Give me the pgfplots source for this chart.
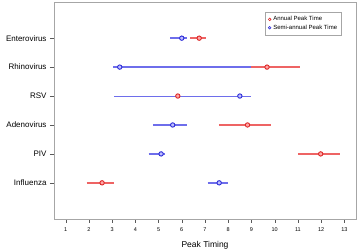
\documentclass[border=0pt]{standalone}
\usepackage{pgfplots}
\pgfplotsset{compat=1.18}
\usepackage{fontspec}
\setmainfont{Liberation Sans}
\definecolor{lred}{RGB}{238,100,100}
\definecolor{dred}{RGB}{220,40,40}
\definecolor{lblue}{RGB}{110,110,235}
\definecolor{dblue}{RGB}{45,45,215}
\begin{document}
\begin{tikzpicture}
\useasboundingbox (-54pt,-32pt) rectangle (304pt,219pt);
\begin{axis}[
  at={(0,0)}, anchor=south west,
  scale only axis, width=302pt, height=217pt,
  xmin=0.5, xmax=13.5, ymin=-0.25, ymax=7.25,
  xtick={1,...,13},
  ytick={1,2,3,4,5,6},
  yticklabels={Influenza,PIV,Adenovirus,RSV,Rhinovirus,Enterovirus},
  tick align=outside, tick pos=left,
  major tick length=4pt,
  xticklabel style={font=\fontsize{5.5}{6}\selectfont, yshift=-1pt},
  yticklabel style={font=\fontsize{8}{9}\selectfont},
  /pgf/number format/assume math mode=true,
  xlabel={Peak Timing},
  xlabel style={font=\fontsize{8.5}{9}\selectfont, yshift=-3pt},
  axis line style={gray!70},
  tick style={gray!70!black},
  legend style={at={(0.953,0.955)}, anchor=north east, draw=gray!70,
    font=\fontsize{6}{7}\selectfont, inner xsep=2.5pt, inner ysep=2.5pt, row sep=-1.5pt,
    legend cell align=left},
  legend image code/.code={\draw[#1] (0.1cm,0) circle (1.3pt);},
]
\addlegendimage{dred, line width=0.6pt}
\addlegendentry{Annual Peak Time}
\addlegendimage{dblue, line width=0.6pt}
\addlegendentry{Semi-annual Peak Time}
% annual (red) intervals
\addplot[lred, line width=1.5pt, forget plot] coordinates {(6.35,6) (7.05,6)};
\addplot[lred, line width=1.7pt, forget plot] coordinates {(8.3,5) (11.1,5)};
\addplot[lred, line width=1.0pt, forget plot] coordinates {(5.2,4) (6.5,4)};
\addplot[lred, line width=1.3pt, forget plot] coordinates {(7.6,3) (9.86,3)};
\addplot[lred, line width=1.7pt, forget plot] coordinates {(11.0,2) (12.8,2)};
\addplot[lred, line width=1.7pt, forget plot] coordinates {(1.9,1) (3.1,1)};
% semi-annual (blue) intervals
\addplot[lblue, line width=1.5pt, forget plot] coordinates {(5.5,6) (6.24,6)};
\addplot[lblue, line width=1.7pt, forget plot] coordinates {(3.04,5) (8.97,5)};
\addplot[lblue, line width=1.0pt, forget plot] coordinates {(3.1,4) (8.96,4)};
\addplot[lblue, line width=1.3pt, forget plot] coordinates {(4.76,3) (6.24,3)};
\addplot[lblue, line width=1.7pt, forget plot] coordinates {(4.57,2) (5.29,2)};
\addplot[lblue, line width=1.7pt, forget plot] coordinates {(7.11,1) (7.97,1)};
% marks
\addplot[only marks, mark=*, mark size=2.2pt, mark options={draw=dred, fill=red!35, line width=0.9pt}, forget plot]
  coordinates {(6.75,6) (9.67,5) (5.83,4) (8.83,3) (11.98,2) (2.57,1)};
\addplot[only marks, mark=*, mark size=2.2pt, mark options={draw=dblue, fill=blue!25, line width=0.9pt}, forget plot]
  coordinates {(6.0,6) (3.33,5) (8.5,4) (5.61,3) (5.11,2) (7.61,1)};
\end{axis}
\end{tikzpicture}
\end{document}
